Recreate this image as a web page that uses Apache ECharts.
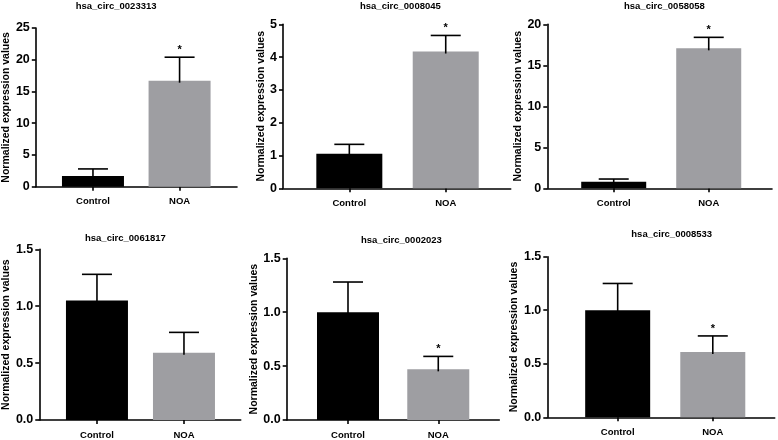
<!DOCTYPE html>
<html><head><meta charset="utf-8">
<script src="https://cdn.jsdelivr.net/npm/echarts@6/dist/echarts.min.js"></script>
<style>html,body{margin:0;padding:0;background:#fff}#c{width:778px;height:440px}</style>
</head><body><div id="c"></div>
<script>
// ---- data ----
const categories = ['Control', 'NOA'];
const titles = ['hsa_circ_0023313', 'hsa_circ_0008045', 'hsa_circ_0058058',
                'hsa_circ_0061817', 'hsa_circ_0002023', 'hsa_circ_0008533'];
const controlMean = [1.70, 1.05, 0.80, 1.05, 1.00, 1.00];
const controlErr  = [1.10, 0.29, 0.33, 0.23, 0.28, 0.25];
const noaMean     = [16.70, 4.17, 17.07, 0.59, 0.47, 0.61];
const noaErr      = [3.70, 0.49, 1.34, 0.18, 0.12, 0.15];
const noaSignificant = [1, 1, 1, 0, 1, 1];
const yMax      = [25, 5, 20, 1.5, 1.5, 1.5];
const yInterval = [5, 1, 5, 0.5, 0.5, 0.5];
const yDecimals = [0, 0, 0, 1, 1, 1];
const yAxisName = 'Normalized expression values';

// ---- layout (pixels) ----
const layout = [
  {left: 29.3,  width: 207.7, top: 28,    height: 158.7, xmin: -0.66,  xmax: 1.663, bw: 62, gap: 19,   tl: 75.7,  tt: 1},
  {left: 283,   width: 227.7, top: 24.3,  height: 164,   xmin: -0.688, xmax: 1.674, bw: 66, gap: 12,   tl: 360,   tt: 1},
  {left: 547.3, width: 224.7, top: 24.3,  height: 164,   xmin: -0.699, xmax: 1.666, bw: 65, gap: 16.3, tl: 624,   tt: 1},
  {left: 32.3,  width: 208.4, top: 249.3, height: 174,   xmin: -0.663, xmax: 1.652, bw: 62, gap: 18.7, tl: 85,    tt: 233},
  {left: 286.7, width: 212.6, top: 258.3, height: 163.7, xmin: -0.679, xmax: 1.676, bw: 62, gap: 17.4, tl: 361,   tt: 235},
  {left: 547.3, width: 227.4, top: 256.7, height: 160.6, xmin: -0.74,  xmax: 1.651, bw: 65, gap: 16.3, tl: 631.3, tt: 229}
];

const FONT = '"Liberation Sans", Arial, sans-serif';
const BLACK = '#000000';
const GREY = '#9e9ea2';

const option = {
  backgroundColor: '#ffffff',
  animation: false,
  title: [], grid: [], xAxis: [], yAxis: [], series: []
};

layout.forEach((L, i) => {
  option.title.push({
    text: titles[i], left: L.tl, top: L.tt, padding: 0,
    textStyle: {fontFamily: FONT, fontSize: 9.5, fontWeight: 'bold', color: BLACK}
  });
  option.grid.push({left: L.left, top: L.top, width: L.width, height: L.height, containLabel: false});
  option.xAxis.push({
    type: 'value', gridIndex: i, min: L.xmin, max: L.xmax,
    axisLine: {show: true, onZero: false, lineStyle: {color: BLACK, width: 1.6}},
    axisTick: {show: true, customValues: [0, 1], length: 4, lineStyle: {color: BLACK, width: 1.6}},
    axisLabel: {show: true, customValues: [0, 1], margin: 10,
      formatter: v => categories[Math.round(v)] || '',
      fontFamily: FONT, fontSize: 9.5, fontWeight: 'bold', color: BLACK},
    splitLine: {show: false}
  });
  option.yAxis.push({
    type: 'value', gridIndex: i, min: 0, max: yMax[i], interval: yInterval[i],
    name: yAxisName, nameLocation: 'middle', nameRotate: 90, nameGap: L.gap,
    nameTextStyle: {fontFamily: FONT, fontSize: 10.5, fontWeight: 'bold', color: BLACK},
    axisLine: {show: true, onZero: false, lineStyle: {color: BLACK, width: 1.6}},
    axisTick: {show: true, length: 4, lineStyle: {color: BLACK, width: 1.6}},
    axisLabel: {show: true, margin: 6,
      formatter: v => v.toFixed(yDecimals[i]),
      fontFamily: FONT, fontSize: 12.5, fontWeight: 'bold', color: BLACK},
    splitLine: {show: false}
  });
  option.series.push({
    type: 'bar', xAxisIndex: i, yAxisIndex: i, barWidth: L.bw,
    data: [
      {value: [0, controlMean[i]], itemStyle: {color: BLACK}},
      {value: [1, noaMean[i]], itemStyle: {color: GREY}}
    ]
  });
  option.series.push({
    type: 'custom', xAxisIndex: i, yAxisIndex: i, z: 5,
    encode: {x: 0, y: 1},
    data: [
      [0, controlMean[i], controlErr[i], 0],
      [1, noaMean[i], noaErr[i], noaSignificant[i]]
    ],
    renderItem: function (params, api) {
      const x = api.value(0), m = api.value(1), e = api.value(2), s = api.value(3);
      const p0 = api.coord([x, m]);
      const p1 = api.coord([x, m + e]);
      const st = {stroke: BLACK, lineWidth: 1.6};
      const children = [
        {type: 'line', shape: {x1: p0[0], y1: p0[1] + 2, x2: p1[0], y2: p1[1]}, style: st},
        {type: 'line', shape: {x1: p1[0] - 15, y1: p1[1], x2: p1[0] + 15, y2: p1[1]}, style: st}
      ];
      if (s) {
        children.push({type: 'text', x: p1[0], y: p1[1] - 7,
          style: {text: '*', align: 'center', verticalAlign: 'middle',
                  font: 'bold 11px ' + FONT, fill: BLACK}});
      }
      return {type: 'group', children: children};
    }
  });
});

const chart = echarts.init(document.getElementById('c'), null, {renderer: 'canvas'});
chart.setOption(option);
</script>
</body></html>
